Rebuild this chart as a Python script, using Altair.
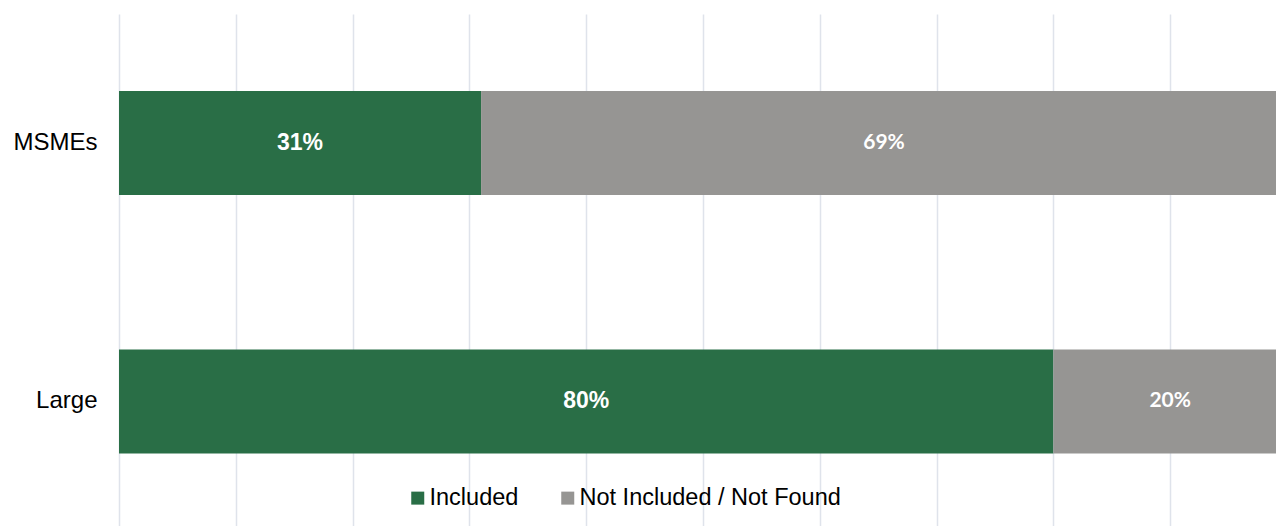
import altair as alt
import pandas as pd

categories = ["MSMEs", "Large"]
series = ["Included", "Not Included / Not Found"]
included = [31, 80]
not_included = [69, 20]
colors = ["#296E46", "#969593"]

rows = []
for i, c in enumerate(categories):
    rows.append({"category": c, "series": series[0], "value": included[i], "order": 0})
    rows.append({"category": c, "series": series[1], "value": not_included[i], "order": 1})
df = pd.DataFrame(rows)

base = alt.Chart(df).transform_stack(
    stack="value", groupby=["category"], as_=["x0", "x1"],
    sort=[alt.SortField("order", order="ascending")]
).transform_calculate(
    mid="(datum.x0 + datum.x1) / 2",
    label="datum.value + '%'"
)

yenc = alt.Y(
    "category:N", sort=categories, title=None,
    scale=alt.Scale(paddingInner=0.598, paddingOuter=0.2893, align=0.515),
    axis=alt.Axis(domain=False, ticks=False, grid=False, labelFont="Liberation Sans",
                  labelFontSize=24, labelColor="#000000", labelPadding=22),
)
xscale = alt.Scale(domain=[0, 99.06], nice=False, zero=True)

bars = base.mark_bar(clip=True).encode(
    y=yenc,
    x=alt.X("x0:Q", scale=xscale, title=None,
            axis=alt.Axis(values=list(range(0, 100, 10)), labels=False, ticks=False,
                          domain=False, grid=True, gridColor="#dfe3eb", gridWidth=1.5)),
    x2="x1:Q",
    color=alt.Color(
        "series:N", scale=alt.Scale(domain=series, range=colors), title=None,
        legend=alt.Legend(orient="none", legendX=287, legendY=472, direction="horizontal",
                          symbolType="square", symbolSize=169, symbolStrokeWidth=0,
                          labelFont="Liberation Sans", labelFontSize=23.5, labelColor="#000000",
                          labelOffset=0, columnPadding=37, labelLimit=1000),
    ),
)

t1 = base.transform_filter(alt.datum.series == series[0]).mark_text(
    font="Liberation Sans", fontSize=23, fontWeight="bold", color="white", baseline="middle"
).encode(y=alt.Y("category:N", sort=categories), x=alt.X("mid:Q", scale=xscale), text="label:N")

t2 = base.transform_filter(alt.datum.series == series[1]).mark_text(
    font="Lato", fontSize=21, fontWeight="bold", color="white", baseline="middle"
).encode(y=alt.Y("category:N", sort=categories), x=alt.X("mid:Q", scale=xscale), text="label:N")

chart = alt.layer(bars, t1, t2).properties(
    width=1157, height=512,
    autosize=alt.AutoSizeParams(type="none"),
    padding={"left": 119, "top": 14, "right": 0, "bottom": 0},
).configure(background="white").configure_view(stroke=None, strokeWidth=0)

chart.save("out.html", embed_options={"renderer": "svg", "actions": False})
